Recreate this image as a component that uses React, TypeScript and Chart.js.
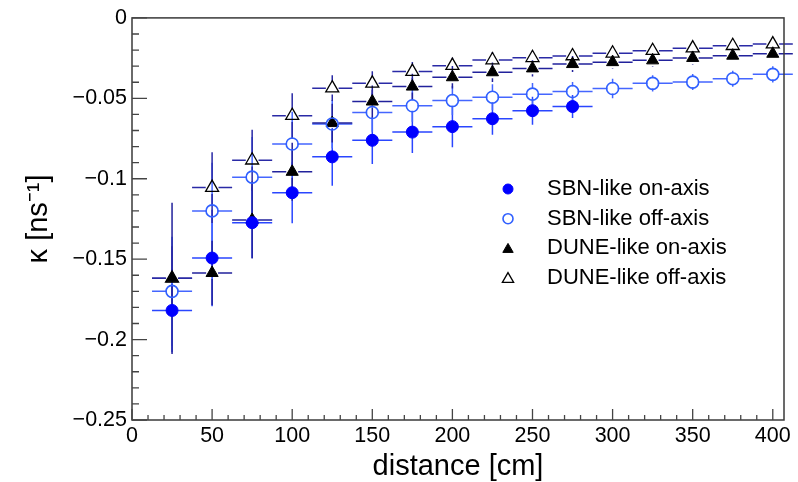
import React, { useEffect, useRef } from "react";
import { Chart, registerables } from "chart.js";

Chart.register(...registerables);

// ---------- data ----------
const distances = [25, 50, 75, 100, 125, 150, 175, 200, 225, 250, 275, 300, 325, 350, 375, 400];
const distanceHalfWidth = 12.5;

const sbnOn = [-0.1819, -0.1493, -0.1273, -0.1087, -0.0864, -0.0761, -0.071, -0.0676, -0.0627, -0.0577, -0.0551];
const sbnOnErr = [0.026, 0.03, 0.022, 0.019, 0.018, 0.0147, 0.013, 0.0128, 0.01, 0.0087, 0.0072];

const sbnOff = [-0.17, -0.12, -0.099, -0.0784, -0.066, -0.0588, -0.0546, -0.0514, -0.0493, -0.0474, -0.0458, -0.0439, -0.0407, -0.0399, -0.0378, -0.0351];
const sbnOffErr = [0.034, 0.03, 0.025, 0.02, 0.015, 0.012, 0.01, 0.009, 0.008, 0.007, 0.006, 0.006, 0.005, 0.005, 0.005, 0.005];

const duneOn = [-0.1619, -0.1586, -0.1256, -0.0957, -0.0654, -0.052, -0.0427, -0.0369, -0.0338, -0.0314, -0.0287, -0.0275, -0.0264, -0.0249, -0.0235, -0.0223];
const duneOnErr = [0.047, 0.02, 0.024, 0.018, 0.012, 0.01, 0.008, 0.007, 0.006, 0.005, 0.005, 0.004, 0.004, 0.004, 0.003, 0.003];

const duneOff = [-0.1619, -0.1055, -0.0885, -0.0608, -0.0437, -0.0407, -0.0334, -0.0297, -0.0262, -0.0248, -0.0237, -0.022, -0.0204, -0.0188, -0.0173, -0.0163];
const duneOffErr = [0.02, 0.022, 0.019, 0.014, 0.008, 0.0075, 0.006, 0.005, 0.005, 0.004, 0.004, 0.004, 0.003, 0.003, 0.003, 0.003];

const seriesLabels = ["SBN-like on-axis", "SBN-like off-axis", "DUNE-like on-axis", "DUNE-like off-axis"];

const xTickValues = [0, 50, 100, 150, 200, 250, 300, 350, 400];
const xTickLabels = ["0", "50", "100", "150", "200", "250", "300", "350", "400"];
const yTickValues = [-0.25, -0.2, -0.15, -0.1, -0.05, 0];
const yTickLabels = ["\u22120.25", "\u22120.2", "\u22120.15", "\u22120.1", "\u22120.05", "0"];

const xTitle = "distance [cm]";
const yTitle = "\u03ba [ns\u207B\u00B9]";

// ---------- styling ----------
const FONT = "'Liberation Sans', Arial, Helvetica, sans-serif";

function toPoints(ys: number[]) {
  return ys.map((y, i) => ({ x: distances[i], y }));
}

const errorBarPlugin = {
  id: "errorBars",
  beforeDatasetsDraw(chart: any) {
    const ctx = chart.ctx;
    const xs = chart.scales.x;
    const ys = chart.scales.y;
    ctx.save();
    chart.data.datasets.forEach((ds: any, di: number) => {
      const meta = chart.getDatasetMeta(di);
      ctx.strokeStyle = ds.errColor;
      ctx.lineWidth = 1.5;
      ds.data.forEach((p: any, i: number) => {
        const el = meta.data[i];
        if (!el) return;
        const px = el.x;
        const py = el.y;
        const gap = ds.pointRadius * 0.85;
        const xl = xs.getPixelForValue(p.x - distanceHalfWidth);
        const xr = xs.getPixelForValue(p.x + distanceHalfWidth);
        const err = ds.yErr[i] || 0;
        const yt = ys.getPixelForValue(p.y + err);
        const yb = ys.getPixelForValue(p.y - err);
        ctx.beginPath();
        ctx.moveTo(xl, py);
        ctx.lineTo(px - gap, py);
        ctx.moveTo(px + gap, py);
        ctx.lineTo(xr, py);
        if (py - yt > gap) {
          ctx.moveTo(px, yt);
          ctx.lineTo(px, py - gap);
          ctx.moveTo(px, py + gap);
          ctx.lineTo(px, yb);
        }
        ctx.stroke();
      });
    });
    ctx.restore();
  },
};

function drawMarker(ctx: CanvasRenderingContext2D, style: string, x: number, y: number, r: number, fill: string, stroke: string, lw: number) {
  ctx.beginPath();
  if (style === "circle") {
    ctx.arc(x, y, r, 0, Math.PI * 2);
  } else {
    let rad = 0;
    ctx.moveTo(x + Math.sin(rad) * r, y - Math.cos(rad) * r);
    rad += (2 * Math.PI) / 3;
    ctx.lineTo(x + Math.sin(rad) * r, y - Math.cos(rad) * r);
    rad += (2 * Math.PI) / 3;
    ctx.lineTo(x + Math.sin(rad) * r, y - Math.cos(rad) * r);
    ctx.closePath();
  }
  ctx.fillStyle = fill;
  ctx.fill();
  ctx.strokeStyle = stroke;
  ctx.lineWidth = lw;
  ctx.stroke();
}

const frameLegendPlugin = {
  id: "frameLegend",
  afterDraw(chart: any, _args: any, opts: any) {
    const ctx = chart.ctx;
    const { left, right, top, bottom } = chart.chartArea;
    const xs = chart.scales.x;
    const ys = chart.scales.y;
    ctx.save();
    // frame
    ctx.strokeStyle = "#3a3a3a";
    ctx.lineWidth = 1.5;
    ctx.strokeRect(left, top, right - left, bottom - top);
    // ticks
    ctx.strokeStyle = "#444";
    ctx.lineWidth = 1.3;
    ctx.beginPath();
    for (let v = xs.min; v <= xs.max + 1e-9; v += opts.xMinorStep) {
      const rv = Math.round(v * 1000) / 1000;
      if (rv > 400) break;
      const px = xs.getPixelForValue(rv);
      const major = Math.abs(rv % 50) < 1e-6;
      ctx.moveTo(px, bottom);
      ctx.lineTo(px, bottom - (major ? opts.xMajorLen : opts.xMinorLen));
    }
    for (let k = 0; k <= 25; k++) {
      const v = ys.min + k * opts.yMinorStep;
      const py = ys.getPixelForValue(v);
      const major = k % 5 === 0;
      ctx.moveTo(left, py);
      ctx.lineTo(left + (major ? opts.yMajorLen : opts.yMinorLen), py);
    }
    ctx.stroke();

    // legend
    ctx.font = `22px ${FONT}`;
    ctx.textBaseline = "middle";
    ctx.textAlign = "left";
    chart.data.datasets.forEach((ds: any, i: number) => {
      const y = opts.legendY + i * opts.legendStep;
      drawMarker(ctx, ds.pointStyle, opts.legendMarkerX, y + (ds.pointStyle === "triangle" ? 1 : 0), ds.legendRadius, ds.backgroundColor, ds.borderColor, ds.borderWidth);
      ctx.fillStyle = "#000";
      ctx.fillText(ds.label, opts.legendTextX, y);
    });
    ctx.restore();
  },
};

export default function App() {
  const canvasRef = useRef<HTMLCanvasElement | null>(null);

  useEffect(() => {
    if (!canvasRef.current) return;
    const chart = new Chart(canvasRef.current, {
      type: "scatter",
      data: {
        datasets: [
          {
            label: seriesLabels[0],
            data: toPoints(sbnOn),
            pointStyle: "circle",
            pointRadius: 6,
            legendRadius: 5,
            backgroundColor: "#0000ff",
            borderColor: "#0000ff",
            borderWidth: 1,
            errColor: "#2a46ff",
            yErr: sbnOnErr,
          },
          {
            label: seriesLabels[1],
            data: toPoints(sbnOff),
            pointStyle: "circle",
            pointRadius: 6,
            legendRadius: 5,
            backgroundColor: "rgba(0,0,0,0)",
            borderColor: "#3060ff",
            borderWidth: 1.6,
            errColor: "#4466ff",
            yErr: sbnOffErr,
          },
          {
            label: seriesLabels[2],
            data: toPoints(duneOn),
            pointStyle: "triangle",
            pointRadius: 7,
            legendRadius: 6,
            backgroundColor: "#000000",
            borderColor: "#000000",
            borderWidth: 1,
            errColor: "#22229c",
            yErr: duneOnErr,
          },
          {
            label: seriesLabels[3],
            data: toPoints(duneOff),
            pointStyle: "triangle",
            pointRadius: 7.5,
            legendRadius: 6.5,
            backgroundColor: "rgba(0,0,0,0)",
            borderColor: "#000000",
            borderWidth: 1.3,
            errColor: "#2a2aa6",
            yErr: duneOffErr,
          },
        ] as any,
      },
      options: {
        animation: false,
        responsive: false,
        devicePixelRatio: 1,
        layout: { padding: { top: 16, right: 14, left: 0, bottom: 0 } },
        plugins: {
          legend: { display: false },
          tooltip: { enabled: false },
          frameLegend: {
            xMinorStep: 10,
            yMinorStep: 0.01,
            xMajorLen: 11,
            xMinorLen: 5,
            yMajorLen: 15,
            yMinorLen: 7,
            legendMarkerX: 508,
            legendTextX: 547,
            legendY: 189,
            legendStep: 29.7,
          },
        } as any,
        scales: {
          x: {
            type: "linear",
            min: 0,
            max: 407,
            afterBuildTicks: (s: any) => {
              s.ticks = xTickValues.map((v) => ({ value: v }));
            },
            afterFit: (s: any) => {
              s.height = 62;
            },
            ticks: {
              callback: (_v: any, i: number) => xTickLabels[i],
              font: { family: FONT, size: 21.5 },
              color: "#000",
              padding: 3,
              maxRotation: 0,
              autoSkip: false,
            },
            grid: { display: false, drawTicks: false },
            border: { display: false },
            title: {
              display: true,
              text: xTitle,
              color: "#000",
              font: { family: FONT, size: 29, lineHeight: 1 },
              padding: { top: 0, bottom: 0.5 },
            },
          },
          y: {
            type: "linear",
            min: -0.25,
            max: 0,
            afterBuildTicks: (s: any) => {
              s.ticks = yTickValues.map((v) => ({ value: v }));
            },
            afterFit: (s: any) => {
              s.width = 132;
            },
            ticks: {
              callback: (_v: any, i: number) => yTickLabels[i],
              font: { family: FONT, size: 21.5 },
              color: "#000",
              padding: 5,
              autoSkip: false,
            },
            grid: { display: false, drawTicks: false },
            border: { display: false },
            title: {
              display: true,
              text: yTitle,
              color: "#000",
              font: { family: FONT, size: 29, lineHeight: 1 },
              padding: { top: 24.5, bottom: 0 },
            },
          },
        } as any,
      },
      plugins: [errorBarPlugin, frameLegendPlugin],
    });
    return () => chart.destroy();
  }, []);

  return (
    <div style={{ position: "fixed", left: 0, top: 0, width: 798, height: 482, background: "#fff" }}>
      <canvas ref={canvasRef} width={798} height={482} style={{ display: "block" }} />
    </div>
  );
}
